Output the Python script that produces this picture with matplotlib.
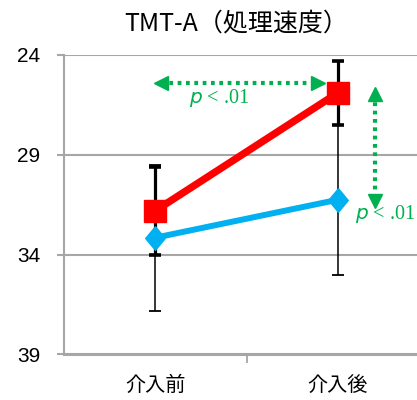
import numpy as np
import matplotlib.pyplot as plt

# 介入前後の平均値と標準偏差
labels = ['介入前', '介入後']
red_mean = [31.8, 25.9]
red_sd = [2.2, 1.6]
blue_mean = [33.15, 31.25]
blue_sd = [3.65, 3.75]
yticks = [24, 29, 34, 39]

green = '#00B050'
grey = '#A6A6A6'

fig = plt.figure(figsize=(4.17, 4.0), dpi=100)
# 右端はわざと図の外まで伸ばしている
ax = fig.add_axes([64 / 417, 45.5 / 400, 365 / 417, 299.5 / 400])

x = np.arange(len(labels))

# エラーバー（線の下に描く）
ax.errorbar(x, blue_mean, yerr=blue_sd, fmt='none', ecolor='black',
            elinewidth=1.1, capsize=4.3, capthick=1.3, zorder=3)
ax.errorbar(x, red_mean, yerr=red_sd, fmt='none', ecolor='black',
            elinewidth=2.3, capsize=4.6, capthick=2.6, zorder=3)

diamond = [(0, 1), (0.83, 0), (0, -1), (-0.83, 0), (0, 1)]
ax.plot(x, blue_mean, color='#00B0F0', lw=4.3, marker=diamond,
        markersize=17, zorder=4)
ax.plot(x, red_mean, color='#FF0000', lw=5.3, marker='s',
        markersize=16.5, zorder=5)

# 有意差の矢印（横）
ax.plot([0.03, 0.89], [25.42, 25.42], color=green, lw=3, ls=(0, (0.9, 1.1)),
        dash_capstyle='butt', zorder=2)
ax.plot([0.03], [25.42], marker='<', color=green, markersize=10, zorder=2)
ax.plot([0.89], [25.42], marker='>', color=green, markersize=10, zorder=2)
ax.text(0.35, 26.15, r'$\mathit{p}$ < .01', color=green, fontsize=14.5,
        family='Liberation Serif', ha='center', va='center')

# 有意差の矢印（縦）
ax.plot([1.204, 1.204], [25.95, 31.3], color=green, lw=3, ls=(0, (0.9, 1.1)),
        dash_capstyle='butt', zorder=2)
ax.plot([1.204], [25.95], marker='^', color=green, markersize=10, zorder=2)
ax.plot([1.204], [31.3], marker='v', color=green, markersize=10, zorder=2)
ax.text(1.094, 31.95, r'$\mathit{p}$ < .01', color=green, fontsize=14.5,
        family='Liberation Serif', ha='left', va='center')

ax.set_xlim(-0.5, 1.5)
ax.set_ylim(39, 24)
ax.set_yticks(yticks)
ax.set_yticklabels([str(v) for v in yticks], family='Liberation Sans',
                   fontsize=15)
ax.set_xticks(x)
ax.set_xticklabels(labels, family='Noto Sans CJK JP', fontsize=14.5)
ax.set_xticks([0.5], minor=True)
ax.tick_params(axis='x', which='major', length=0, pad=15)
ax.tick_params(axis='x', which='minor', length=6, width=1.3, color=grey)
ax.tick_params(axis='y', length=5, width=1.5, color=grey, pad=12)

ax.grid(axis='y', color=grey, lw=1.5, zorder=0)
ax.set_axisbelow(True)
for side in ['top', 'right']:
    ax.spines[side].set_visible(False)
for side in ['left', 'bottom']:
    ax.spines[side].set_color(grey)
    ax.spines[side].set_linewidth(1.5)

fig.text(236 / 417, 1 - 23 / 400, 'TMT-A（処理速度）', family='Noto Sans CJK JP',
         fontsize=18, ha='center', va='center')

fig.savefig('out.png', dpi=100)
